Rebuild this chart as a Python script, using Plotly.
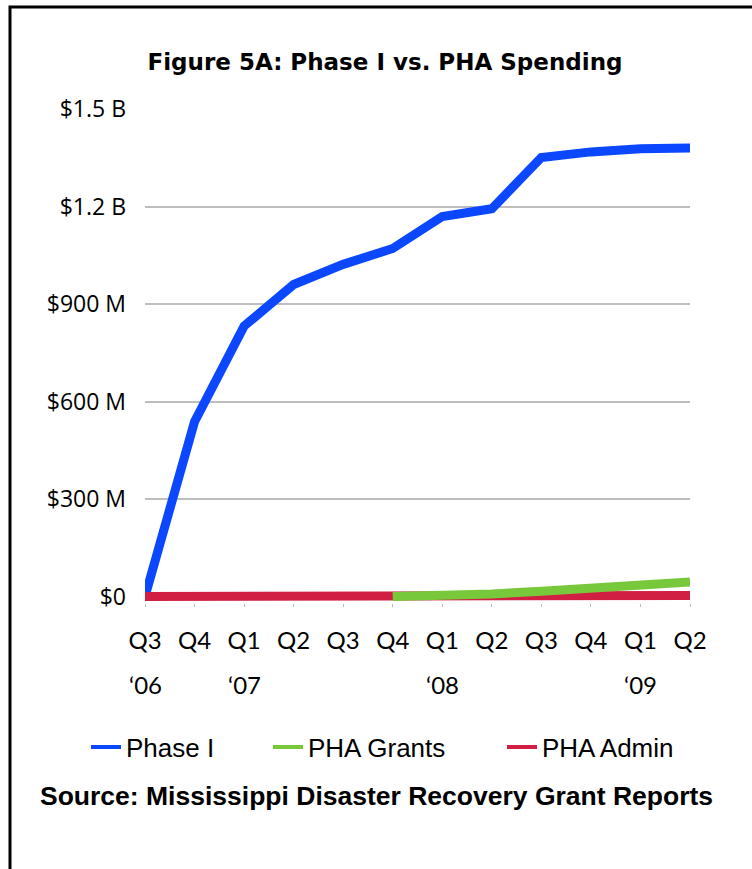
import plotly.graph_objects as go

# ---- data ----
quarters = ["Q3", "Q4", "Q1", "Q2", "Q3", "Q4", "Q1", "Q2", "Q3", "Q4", "Q1", "Q2"]
year_labels = ["\u201806", "\u201807", "\u201808", "\u201809"]
year_positions = [0, 2, 6, 10]
phase1 = [0, 538e6, 832e6, 960e6, 1022e6, 1071e6, 1169e6, 1193e6, 1351e6, 1368e6, 1378e6, 1380e6]
pha_grants = [None, None, None, None, None, 0, 3e6, 8e6, 16e6, 26e6, 40e6, 45e6]
pha_admin = [0, 0, 0, 0, 0, 0, 1e6, 1e6, 2e6, 2e6, 3e6, 3e6]
y_tickvals = [0, 300e6, 600e6, 900e6, 1200e6, 1500e6]
y_ticktext = ["$0", "$300 M", "$600 M", "$900 M", "$1.2 B", "$1.5 B"]
series_names = ["Phase I", "PHA Grants", "PHA Admin"]
colors = ["#0a47ff", "#78c83c", "#d01f43"]

x = list(range(len(quarters)))

W, H = 752, 869
ML, MR, MT, MB = 145, 62, 109, 266
PW = W - ML - MR
PH = H - MT - MB


def px_x(p):
    return (p - ML) / PW


def px_y(p):
    return (H - MB - p) / PH


fig = go.Figure()
# real lines (drawn order: Phase I, Admin, Grants)
fig.add_trace(go.Scatter(x=x, y=phase1, mode="lines", line=dict(color=colors[0], width=9),
                         showlegend=False, hoverinfo="skip"))
fig.add_trace(go.Scatter(x=x, y=pha_admin, mode="lines", line=dict(color=colors[2], width=9),
                         showlegend=False, hoverinfo="skip"))
fig.add_trace(go.Scatter(x=x, y=pha_grants, mode="lines", line=dict(color=colors[1], width=9),
                         showlegend=False, hoverinfo="skip"))

# legend entries (thinner sample lines), each in its own legend box
legend_names = ["legend", "legend2", "legend3"]
for name, col, lg in zip(series_names, colors, legend_names):
    fig.add_trace(go.Scatter(x=[None], y=[None], mode="lines", name=name,
                             line=dict(color=col, width=4), legend=lg, hoverinfo="skip"))

leg_font = dict(family="Liberation Sans, Arial, sans-serif", size=26, color="#000")
leg_x = [86, 268, 502]
leg_common = dict(orientation="h", yanchor="middle", xanchor="left", font=leg_font,
                  bgcolor="rgba(0,0,0,0)", borderwidth=0)
layout_legends = {}
for lg, lx in zip(legend_names, leg_x):
    layout_legends[lg] = dict(x=px_x(lx), y=px_y(747), **leg_common)

annotations = []
for yl, yp in zip(year_labels, year_positions):
    annotations.append(dict(x=yp, y=px_y(684), xref="x", yref="paper", text=yl,
                            showarrow=False, xanchor="center", yanchor="middle",
                            font=dict(family="Lato, sans-serif", size=24, color="#000")))
annotations.append(dict(x=px_x(376), y=px_y(796), xref="paper", yref="paper",
                        text="<b>Source: Mississippi Disaster Recovery Grant Reports</b>",
                        showarrow=False, xanchor="center", yanchor="middle",
                        font=dict(family="Liberation Sans, Arial, sans-serif", size=26.5, color="#000")))

fig.update_layout(
    width=W, height=H,
    margin=dict(l=ML, r=MR, t=MT, b=MB, pad=0),
    paper_bgcolor="white", plot_bgcolor="white",
    title=dict(text="<b>Figure 5A: Phase I vs. PHA Spending</b>", x=385 / W, xanchor="center",
               y=1 - 62 / H, yanchor="middle", xref="container", yref="container",
               font=dict(family="DejaVu Sans, sans-serif", size=23, color="#000")),
    xaxis=dict(range=[0, 11], tickmode="array", tickvals=x, ticktext=quarters,
               showgrid=False, zeroline=False, showline=False,
               ticks="outside", ticklen=3, tickcolor="#bbbbbb", tickwidth=1,
               tickfont=dict(family="Lato, sans-serif", size=24, color="#000"),
               ticklabelstandoff=13, fixedrange=True),
    yaxis=dict(range=[-20e6, 1.5e9], tickmode="array", tickvals=y_tickvals, ticktext=y_ticktext,
               showgrid=True, gridcolor="#bdbdbd", gridwidth=2, zeroline=False, showline=False,
               ticks="", tickfont=dict(family="Open Sans, sans-serif", size=23, color="#000"),
               ticklabelstandoff=18, fixedrange=True),
    annotations=annotations,
    shapes=[dict(type="rect", xref="paper", yref="paper",
                 x0=px_x(10), x1=px_x(W + 20), y0=px_y(H + 20), y1=px_y(7),
                 line=dict(color="#000", width=3), fillcolor="rgba(0,0,0,0)", layer="above")],
    **layout_legends,
)

fig.write_html("out.html", config={"displayModeBar": False},
               post_script="document.body.style.margin='0';")
